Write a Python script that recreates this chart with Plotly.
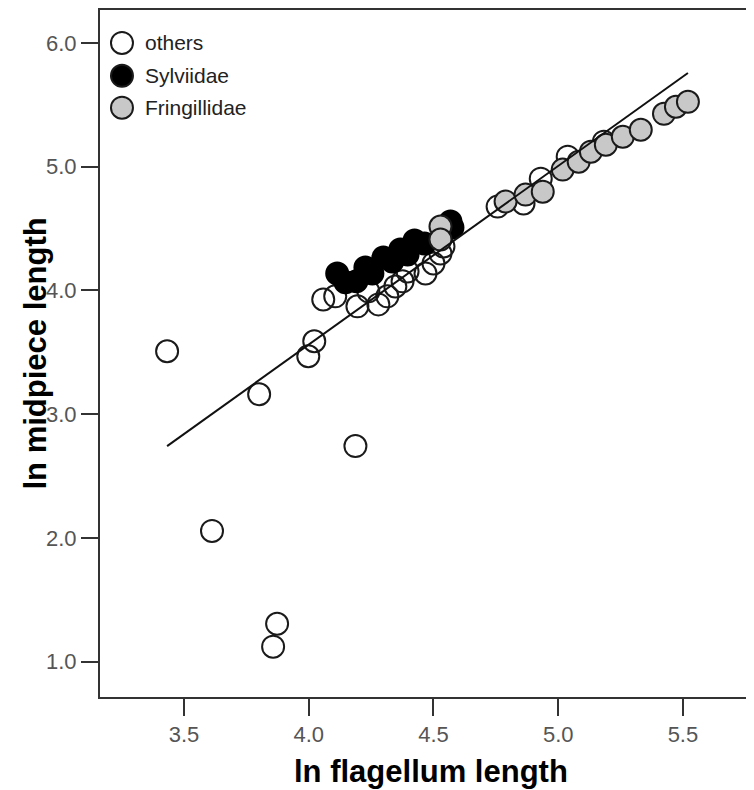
import plotly.graph_objects as go

categories = ["others", "Sylviidae", "Fringillidae"]

others_x = [3.432, 3.801, 3.612, 4.187, 3.873, 3.857, 3.998, 4.022,
            4.058, 4.106, 4.195, 4.279, 4.315, 4.347, 4.376, 4.396,
            4.468, 4.500, 4.528, 4.540, 4.239,
            4.757, 4.861, 4.930, 5.038, 5.183]
others_y = [3.508, 3.161, 2.056, 2.742, 1.306, 1.121, 3.468, 3.589,
            3.927, 3.952, 3.871, 3.887, 3.952, 4.032, 4.073, 4.153,
            4.137, 4.218, 4.298, 4.355, 3.992,
            4.677, 4.702, 4.903, 5.081, 5.202]

sylv_x = [4.114, 4.147, 4.191, 4.227, 4.255, 4.299, 4.335, 4.367,
          4.396, 4.424, 4.464, 4.568, 4.576]
sylv_y = [4.137, 4.065, 4.073, 4.185, 4.137, 4.266, 4.234, 4.331,
          4.290, 4.403, 4.379, 4.556, 4.508]

fring_x = [4.528, 4.528, 4.789, 4.869, 4.938, 5.018, 5.082, 5.131,
           5.191, 5.259, 5.331, 5.424, 5.472, 5.520]
fring_y = [4.516, 4.411, 4.718, 4.774, 4.798, 4.976, 5.040, 5.121,
           5.177, 5.242, 5.298, 5.427, 5.484, 5.524]

fit_intercept = -2.214
fit_slope = 1.444

x_ticks = [3.5, 4.0, 4.5, 5.0, 5.5]
y_ticks = [1.0, 2.0, 3.0, 4.0, 5.0, 6.0]
x_title = "ln flagellum length"
y_title = "ln midpiece length"

FONT = "Liberation Sans, Arial"
MS = 22
fig = go.Figure()
fig.add_trace(go.Scatter(x=others_x, y=others_y, mode="markers", name=categories[0],
                         marker=dict(symbol="circle-open", size=MS, color="#1a1a1a",
                                     line=dict(width=2))))
fig.add_trace(go.Scatter(x=sylv_x, y=sylv_y, mode="markers", name=categories[1],
                         marker=dict(symbol="circle", size=MS, color="#000000",
                                     line=dict(width=2, color="#000000"))))
fig.add_trace(go.Scatter(x=fring_x, y=fring_y, mode="markers", name=categories[2],
                         marker=dict(symbol="circle", size=MS, color="#c8c8c8",
                                     line=dict(width=2, color="#1a1a1a"))))

all_x = others_x + sylv_x + fring_x
lx = [min(all_x), max(all_x)]
ly = [fit_intercept + fit_slope * v for v in lx]
fig.add_trace(go.Scatter(x=lx, y=ly, mode="lines", showlegend=False,
                         line=dict(color="#111111", width=2)))

# legend drawn manually (larger symbols than plotly's legend allows)
fills = ["rgba(0,0,0,0)", "#000000", "#c8c8c8"]
leg_y = [0.9521, 0.9042, 0.8578]
shapes = []
annotations = []
for name, fc, yy in zip(categories, fills, leg_y):
    shapes.append(dict(type="circle", xref="paper", yref="paper",
                       xsizemode="pixel", ysizemode="pixel",
                       xanchor=0.0332, yanchor=yy, x0=-11, x1=11, y0=-11, y1=11,
                       fillcolor=fc, line=dict(color="#1a1a1a", width=2)))
    annotations.append(dict(xref="paper", yref="paper", x=0.0652, y=yy,
                            xanchor="left", yanchor="middle", showarrow=False,
                            text=name, font=dict(size=21, color="#222222", family=FONT)))

annotations.append(dict(xref="paper", yref="paper", x=0.5, y=0.0, yshift=-74,
                        xanchor="center", yanchor="middle", showarrow=False,
                        text="<b>%s</b>" % x_title,
                        font=dict(size=31, color="#000000", family=FONT)))
annotations.append(dict(xref="paper", yref="paper", x=0.0, xshift=-65, y=0.5,
                        xanchor="center", yanchor="middle", showarrow=False,
                        textangle=-90, text="<b>%s</b>" % y_title,
                        font=dict(size=31, color="#000000", family=FONT)))

fig.update_layout(
    width=754, height=782,
    margin=dict(l=92, r=0, t=0, b=93),
    paper_bgcolor="white", plot_bgcolor="white",
    showlegend=False,
    shapes=shapes, annotations=annotations,
    font=dict(family=FONT, size=22, color="#555555"),
)
fig.update_xaxes(range=[3.163, 5.817], tickvals=x_ticks,
                 ticktext=["%.1f" % v for v in x_ticks],
                 showgrid=False, zeroline=False, showline=True, linecolor="#333333",
                 linewidth=2, mirror=True, ticks="outside", ticklen=17, tickwidth=2,
                 tickcolor="#333333", tickfont=dict(size=22, color="#555555"))
fig.update_yaxes(range=[0.714, 6.266], tickvals=y_ticks,
                 ticktext=["%.1f" % v for v in y_ticks],
                 showgrid=False, zeroline=False, showline=True, linecolor="#333333",
                 linewidth=2, mirror=False, ticks="outside", ticklen=17, tickwidth=2,
                 tickcolor="#333333", tickfont=dict(size=22, color="#555555"))

fig.write_html("out.html")
